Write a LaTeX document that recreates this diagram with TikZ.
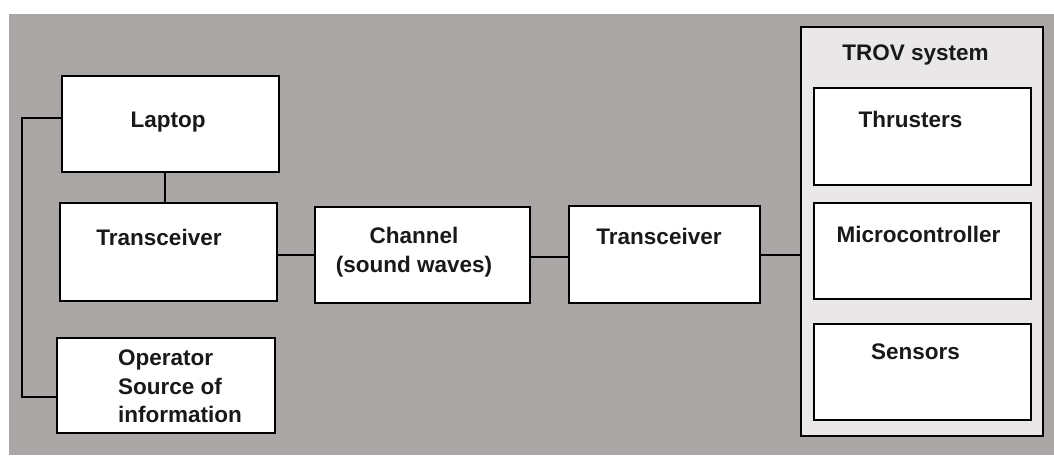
\documentclass[tikz,border=0pt]{standalone}
\usepackage{fontspec}
\setmainfont{Liberation Sans}
\definecolor{bggray}{RGB}{170,166,166}
\definecolor{trovfill}{RGB}{233,231,231}
\begin{document}
\begin{tikzpicture}[x=1pt,y=-1pt,
  box/.style={draw=black,fill=white,line width=1.8pt,inner sep=0pt},
  conn/.style={draw=black,line width=2pt},
  lbl/.style={inner sep=0pt,font=\bfseries\fontsize{22.5}{28.5}\selectfont,text=black!90}]
\useasboundingbox (0,0) rectangle (1054,455);
\fill[white] (0,0) rectangle (1054,455);
\fill[bggray] (9,14) rectangle (1054,455);
% boxes
\node[box,minimum width=217,minimum height=96] (laptop) at (170.5,124) {};
\node[box,minimum width=217,minimum height=98] (trans1) at (168.5,252) {};
\node[box,minimum width=218,minimum height=95] (operator) at (166,385.5) {};
\node[box,minimum width=215,minimum height=96] (channel) at (422.5,255) {};
\node[box,minimum width=191,minimum height=97] (trans2) at (664.5,254.5) {};
\node[box,fill=trovfill,minimum width=242,minimum height=409] (trov) at (922,231.5) {};
\node[box,minimum width=217,minimum height=97] (thrusters) at (922.5,136.5) {};
\node[box,minimum width=217,minimum height=96] (micro) at (922.5,251) {};
\node[box,minimum width=217,minimum height=96] (sensors) at (922.5,372) {};
% labels
\node[lbl,anchor=base] (tlaptop) at (168,127) {Laptop};
\node[lbl,anchor=base] (ttrans1) at (159,245) {Transceiver};
\node[lbl,anchor=north west,align=left] (toperator) at (118,350) {Operator\\Source of\\information};
\node[lbl,anchor=north,align=center] (tchannel) at (414,227) {Channel\\(sound waves)};
\node[lbl,anchor=base] (ttrans2) at (659,244) {Transceiver};
\node[lbl,anchor=base] (ttrov) at (915.5,60) {TROV system};
\node[lbl,anchor=base] (tthrusters) at (910.5,127) {Thrusters};
\node[lbl,anchor=base] (tmicro) at (918.5,242) {Microcontroller};
\node[lbl,anchor=base] (tsensors) at (915.5,359) {Sensors};
% connectors
\draw[conn] ([yshift=6pt]laptop.west) -- ++(-39,0) |- ([yshift=-11.5pt]operator.west);
\draw[conn] ([xshift=-5.5pt]laptop.south) -- ([xshift=-3.5pt]trans1.north);
\draw[conn] (channel.west) -- (channel.west -| trans1.east);
\draw[conn] ([yshift=-2pt]channel.east) -- ([yshift=-2pt]channel.east -| trans2.west);
\draw[conn] (trans2.east) -- (trans2.east -| trov.west);
\end{tikzpicture}
\end{document}
